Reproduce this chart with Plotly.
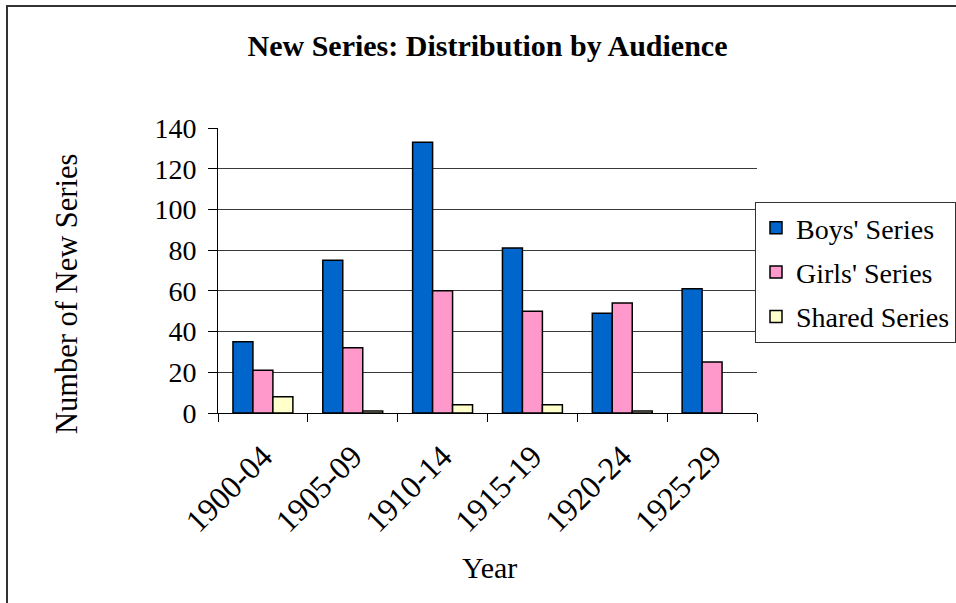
import plotly.graph_objects as go

# Five-year periods and number of new series launched per audience
periods = ["1900-04", "1905-09", "1910-14", "1915-19", "1920-24", "1925-29"]
boys_series = [35, 75, 133, 81, 49, 61]
girls_series = [21, 32, 60, 50, 54, 25]
shared_series = [8, 1, 4, 4, 1, 0]
y_ticks = [0, 20, 40, 60, 80, 100, 120, 140]

FONT = "Liberation Serif"
W, H = 956, 603
L, R, T, B = 218, 199, 128, 190
PW, PH = W - L - R, H - T - B


def px_x(x):
    return (x - L) / PW


def px_y(y):
    return (H - B - y) / PH


fig = go.Figure()
for name, vals, color, grp in [
    ("Boys' Series", boys_series, "#0066CC", "a"),
    ("Girls' Series", girls_series, "#FF99CC", "b"),
    ("Shared Series", shared_series, "#FFFFCC", "c"),
]:
    # empty categories get no outline, so nothing is drawn on the baseline
    widths = [1.5 if v else 0 for v in vals]
    fig.add_trace(go.Bar(
        x=periods, y=vals, name=name, legendgroup=grp,
        marker=dict(color=color, line=dict(color="#000000", width=widths)),
    ))

fig.update_layout(
    width=W, height=H,
    margin=dict(l=L, r=R, t=T, b=B, autoexpand=False),
    paper_bgcolor="white", plot_bgcolor="white",
    barmode="group", bargap=0.333, bargroupgap=0,
    font=dict(family=FONT, size=28, color="#000000"),
    title=dict(
        text="<b>New Series: Distribution by Audience</b>",
        font=dict(family=FONT, size=30, color="#000000"),
        x=px_x(487.5), xref="paper", xanchor="center",
        y=1 - 45 / H, yref="container", yanchor="middle",
    ),
    xaxis=dict(
        type="category",
        showline=True, linecolor="#000000", linewidth=1,
        ticks="outside", ticklen=8, tickcolor="#000000",
        tickson="boundaries", tickangle=-45,
        ticklabelstandoff=11,
        tickfont=dict(family=FONT, size=32),
        showgrid=False,
    ),
    yaxis=dict(
        range=[0, 140], tickvals=y_ticks,
        showline=True, linecolor="#000000", linewidth=1,
        ticks="outside", ticklen=9, tickcolor="#000000",
        ticklabelstandoff=6,
        tickfont=dict(family=FONT, size=28),
        showgrid=True, gridcolor="#3a3a3a", gridwidth=1,
        zeroline=False,
    ),
    legend=dict(
        x=px_x(755), y=px_y(202), xanchor="left", yanchor="top",
        bordercolor="#333333", borderwidth=1, bgcolor="white",
        font=dict(family=FONT, size=28),
        traceorder="grouped", tracegroupgap=5,
    ),
    annotations=[
        dict(text="Year", x=px_x(489), y=px_y(567), xref="paper", yref="paper",
             xanchor="center", yanchor="middle", showarrow=False,
             font=dict(family=FONT, size=30)),
        dict(text="Number of New Series", x=px_x(67), y=px_y(294),
             xref="paper", yref="paper", textangle=-90,
             xanchor="center", yanchor="middle", showarrow=False,
             font=dict(family=FONT, size=30.5)),
    ],
    shapes=[
        dict(type="rect", xref="paper", yref="paper",
             x0=px_x(7), x1=px_x(990), y0=px_y(6), y1=px_y(640),
             line=dict(color="#333333", width=2), layer="below"),
    ],
)

fig.write_html("out.html")
